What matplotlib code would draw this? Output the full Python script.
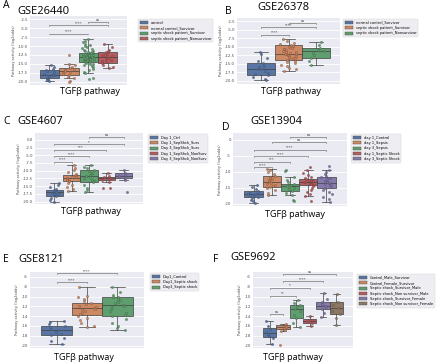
import numpy as np
import matplotlib
matplotlib.use("Agg")
import matplotlib.pyplot as plt
from matplotlib.patches import Patch

# seaborn "deep" palette (box faces slightly desaturated, points full colour)
box_colors = ["#5975a4", "#cc8963", "#5f9e6e", "#b55d60", "#857aab", "#8d7866"]
pt_colors = ["#4c72b0", "#dd8452", "#55a868", "#c44e52", "#8172b3", "#937860"]

# ---- GSE26440 ----
a_groups = ["control", "normal control_Survivor", "septic shock patient_Survivor",
            "septic shock patient_Nonsurvivor"]
# (whislo, q1, med, q3, whishi)
a_boxes = [(-19.7, -19.0, -18.0, -16.65, -15.4), (-19.0, -18.1, -17.0, -16.1, -14.9),
           (-17.6, -14.45, -13.1, -11.9, -8.0), (-16.2, -14.7, -13.0, -11.8, -9.4)]
a_points = [
    [-15.4, -15.9, -16.3, -16.6, -17.0, -17.3, -17.7, -18.0, -18.2, -18.6, -18.9, -19.1, -19.4, -19.7],
    [-12.4, -14.9, -15.4, -15.9, -16.2, -16.5, -16.8, -17.0, -17.3, -17.6, -17.9, -18.2, -18.6, -19.0, -19.8, -20.2],
    [-8.0, -8.5, -9.0, -9.4, -9.8, -10.1, -10.4, -10.6, -10.9, -11.1, -11.3, -11.5, -11.7, -11.8, -11.9,
     -12.0, -12.1, -12.2, -12.3, -12.4, -12.5, -12.6, -12.7, -12.8, -12.9, -13.0, -13.1, -13.2, -13.3,
     -13.4, -13.5, -13.6, -13.7, -13.8, -13.9, -14.0, -14.1, -14.2, -14.3, -14.4, -14.5, -14.7, -14.9,
     -15.1, -15.4, -15.7, -16.0, -16.4, -16.8, -17.2, -17.6, -19.0, -19.2],
    [-9.4, -10.2, -11.0, -11.5, -11.8, -12.1, -12.4, -12.6, -12.9, -13.1, -13.3, -13.6, -13.9, -14.2,
     -14.5, -14.8, -15.3, -15.8, -16.2],
]
a_brackets = [(0, 2, -6.5, "****"), (0, 3, -4.2, "****"), (2, 3, -3.2, "ns")]
a_yticks = [-2.5, -5.0, -7.5, -10.0, -12.5, -15.0, -17.5, -20.0]

# ---- GSE26378 ----
b_groups = ["normal control_Survivor", "septic shock patient_Survivor",
            "septic shock patient_Nonsurvivor"]
b_boxes = [(-19.8, -18.3, -16.6, -14.9, -11.6), (-17.1, -13.75, -12.1, -9.4, -7.8),
           (-15.2, -13.3, -11.35, -10.4, -8.65)]
b_points = [
    [-11.6, -12.0, -13.3, -14.2, -14.9, -15.5, -16.0, -16.6, -17.1, -17.6, -18.0, -18.3, -18.9, -19.4, -19.8],
    [-7.8, -8.3, -8.9, -9.2, -9.4, -9.7, -10.0, -10.3, -10.6, -10.8, -11.0, -11.2, -11.4, -11.6, -11.8,
     -12.0, -12.1, -12.2, -12.4, -12.6, -12.8, -13.0, -13.2, -13.4, -13.6, -13.8, -14.1, -14.4, -14.8,
     -15.2, -15.7, -16.2, -16.6, -17.1],
    [-8.65, -9.4, -10.4, -10.9, -11.3, -11.8, -12.4, -13.3, -14.2, -15.2],
]
b_brackets = [(0, 1, -6.5, "****"), (0, 2, -4.3, "****"), (1, 2, -3.0, "ns")]

# ---- GSE4607 ----
c_groups = ["Day 1_Ctrl", "Day 1_SepShck_Surv", "Day 3_SepShck_Surv",
            "Day 1_SepShck_NonSurv", "Day 3_SepShck_NonSurv"]
c_boxes = [(-20.0, -18.1, -17.0, -16.2, -14.0), (-16.5, -13.5, -12.4, -11.4, -8.2),
           (-17.0, -13.8, -11.6, -9.7, -8.1), (-13.8, -13.0, -12.4, -11.9, -10.9),
           (-13.0, -12.5, -11.6, -10.9, -9.8)]
c_points = [
    [-14.0, -14.6, -15.3, -15.9, -16.3, -16.6, -16.9, -17.1, -17.4, -17.7, -18.0, -18.3, -18.8, -19.4, -20.0],
    [-8.2, -9.0, -9.8, -10.5, -11.0, -11.4, -11.7, -12.0, -12.2, -12.4, -12.6, -12.9, -13.2, -13.5,
     -13.9, -14.5, -15.2, -15.9, -16.5],
    [-8.1, -8.7, -9.2, -9.7, -10.1, -10.6, -11.0, -11.4, -11.7, -12.0, -12.4, -12.9, -13.4, -13.8,
     -14.5, -15.5, -16.3, -17.0],
    [-10.9, -11.7, -12.1, -12.4, -12.7, -13.1, -13.8, -15.5, -15.7],
    [-9.8, -10.9, -11.4, -11.8, -12.5, -13.0, -16.8],
]
c_brackets = [(0, 1, -7.1, "****"), (0, 2, -5.4, "****"), (0, 3, -3.3, "***"),
              (0, 4, -1.4, "*"), (2, 4, 0.75, "ns")]
c_yticks = [0.0, -2.5, -5.0, -7.5, -10.0, -12.5, -15.0, -17.5, -20.0]

# ---- GSE13904 ----
d_groups = ["day 1_Control", "day 1_Sepsis", "day 3_Sepsis", "day 1_Septic Shock", "day 3_Septic Shock"]
d_boxes = [(-19.7, -17.8, -16.9, -16.1, -14.0), (-17.4, -14.7, -13.2, -11.4, -9.1),
           (-17.4, -15.9, -14.3, -13.8, -11.7), (-17.6, -14.2, -13.3, -12.2, -9.6),
           (-19.4, -15.0, -13.5, -11.6, -9.5)]
d_points = [
    [-14.0, -14.8, -15.5, -16.0, -16.3, -16.6, -16.8, -17.0, -17.2, -17.5, -17.8, -18.2, -18.7, -19.2, -19.7],
    [-9.1, -9.6, -10.2, -10.8, -11.2, -11.5, -11.9, -12.3, -12.7, -13.0, -13.2, -13.5, -13.8, -14.1,
     -14.4, -14.7, -15.2, -15.8, -16.5, -17.4],
    [-9.3, -9.8, -11.7, -12.5, -13.3, -13.8, -14.0, -14.3, -14.6, -15.0, -15.5, -15.9, -16.5, -17.4,
     -18.7, -19.0],
    [-8.6, -9.6, -10.3, -11.0, -11.6, -12.0, -12.2, -12.5, -12.7, -12.9, -13.1, -13.3, -13.5, -13.7,
     -13.9, -14.2, -14.6, -15.1, -15.7, -16.4, -17.0, -17.6, -19.0],
    [-8.3, -9.5, -10.1, -10.7, -11.2, -11.6, -12.0, -12.4, -12.8, -13.2, -13.5, -13.8, -14.1, -14.5,
     -15.0, -15.6, -16.2, -17.0, -17.8, -18.6, -19.4],
]
d_brackets = [(0, 1, -8.6, "****"), (0, 2, -6.9, "***"), (0, 3, -5.2, "****"),
              (0, 4, -3.1, "****"), (1, 4, -0.7, "ns"), (2, 4, 0.8, "ns")]
d_yticks = [0, -5, -10, -15, -20]

# ---- GSE8121 ----
e_groups = ["Day1_Control", "Day1_Septic shock", "Day3_Septic shock"]
e_boxes = [(-19.65, -17.9, -16.9, -16.0, -14.9), (-16.3, -13.7, -12.3, -11.4, -8.1),
           (-16.9, -13.9, -11.8, -10.2, -8.1)]
e_points = [
    [-14.9, -15.2, -15.7, -16.0, -16.3, -16.6, -16.9, -17.2, -17.6, -17.9, -18.4, -19.0, -19.65],
    [-8.1, -9.8, -10.2, -10.6, -11.0, -11.3, -11.6, -11.9, -12.1, -12.3, -12.5, -12.7, -13.0, -13.3,
     -13.6, -13.9, -14.3, -14.8, -15.4, -16.0, -16.3],
    [-8.1, -9.0, -9.6, -10.0, -10.2, -10.5, -10.8, -11.1, -11.4, -11.7, -11.9, -12.2, -12.5, -12.9,
     -13.3, -13.7, -14.0, -14.6, -15.3, -16.0, -16.5, -16.9],
]
e_brackets = [(0, 1, -7.1, "****"), (0, 2, -5.3, "****")]
ef_yticks = [-6, -8, -10, -12, -14, -16, -18, -20]

# ---- GSE9692 ----
f_groups = ["Control_Male_Survivor", "Control_Female_Survivor", "Septic shock_Survivor_Male",
            "Septic shock_Non survivor_Male", "Septic shock_Survivor_Female",
            "Septic shock_Non survivor_Female"]
f_boxes = [(-19.65, -18.25, -17.5, -16.5, -15.05), (-17.0, -16.7, -16.3, -15.8, -15.6),
           (-16.2, -14.4, -12.5, -11.8, -10.7), (-16.0, -15.3, -14.9, -14.6, -13.9),
           (-14.2, -12.5, -12.0, -11.1, -9.2), (-15.8, -13.5, -12.3, -11.1, -9.5)]
f_points = [
    [-15.05, -16.0, -16.6, -17.2, -17.6, -18.0, -18.4, -19.65],
    [-15.6, -15.9, -16.1, -16.3, -16.5, -16.8, -17.0, -19.8],
    [-10.7, -11.3, -11.8, -12.2, -12.5, -13.0, -13.8, -14.4, -15.5, -16.2],
    [-13.9, -14.7, -15.0, -15.3, -16.0],
    [-9.2, -10.5, -11.1, -11.5, -11.9, -12.2, -12.6, -13.4, -14.2],
    [-9.5, -11.1, -11.8, -12.3, -12.9, -13.5, -14.3, -15.8],
]
f_brackets = [(0, 1, -13.5, "ns"), (0, 2, -9.9, "**"), (0, 3, -8.2, "*"),
              (1, 4, -6.9, "****"), (1, 5, -5.5, "ns")]

W, H = 440, 362
rng = np.random.default_rng(7)


def px_rect(x0, y0, x1, y1):
    return [x0 / W, 1 - y1 / H, (x1 - x0) / W, (y1 - y0) / H]


def draw_panel(fig, rect, groups, boxes, points, brackets, yticks, ylim, fmt, leg_xy):
    ax = fig.add_axes(px_rect(*rect))
    ax.set_facecolor("#eaeaf2")
    for s in ax.spines.values():
        s.set_visible(False)
    ax.set_axisbelow(True)
    ax.grid(axis="y", color="white", lw=0.6)

    n = len(groups)
    w = 0.8 / n
    pos = [-0.4 + w * (i + 0.5) for i in range(n)]
    stats = [dict(whislo=b[0], q1=b[1], med=b[2], q3=b[3], whishi=b[4], fliers=[]) for b in boxes]
    bp = ax.bxp(stats, positions=pos, widths=w, capwidths=w * 0.5, patch_artist=True,
                showfliers=False,
                boxprops=dict(edgecolor="0.25", lw=0.5),
                medianprops=dict(color="0.25", lw=0.5),
                whiskerprops=dict(color="0.25", lw=0.5),
                capprops=dict(color="0.25", lw=0.5))
    for patch, c in zip(bp["boxes"], box_colors):
        patch.set_facecolor(c)

    # strip of individual samples over the boxes
    for i, vals in enumerate(points):
        xs = pos[i] + rng.uniform(-w * 0.3, w * 0.3, len(vals))
        ax.scatter(xs, vals, s=2.8, color=pt_colors[i], edgecolors="0.25",
                   linewidths=0.2, zorder=4)

    yr = ylim[1] - ylim[0]
    for i, j, y, txt in brackets:
        h = yr * 0.012
        ax.plot([pos[i], pos[i], pos[j], pos[j]], [y - h, y, y, y - h], color="0.35", lw=0.4)
        ax.text((pos[i] + pos[j]) / 2, y + yr * 0.002, txt, ha="center", va="bottom",
                fontsize=2.6, color="0.2")

    ax.set_xlim(-0.5, 0.5)
    ax.set_ylim(*ylim)
    ax.set_xticks([])
    ax.set_yticks(yticks)
    ax.set_yticklabels([fmt.format(t) for t in yticks])
    ax.tick_params(axis="y", length=0, pad=1.5, labelsize=2.8, labelcolor="0.3")
    ax.set_ylabel("Pathway activity (log2odds)", fontsize=2.6, labelpad=1.5, color="0.3")

    handles = [Patch(facecolor=box_colors[i], edgecolor="0.3", lw=0.3) for i in range(n)]
    ax.legend(handles, groups, loc="upper left",
              bbox_to_anchor=(leg_xy[0] / W, 1 - leg_xy[1] / H),
              bbox_transform=fig.transFigure, fontsize=2.6, frameon=True,
              facecolor="#eeeef2", edgecolor="#d0d0d8", framealpha=1,
              handlelength=2.2, handleheight=0.9, borderpad=0.5, labelspacing=0.35,
              handletextpad=0.8, borderaxespad=0).get_frame().set_linewidth(0.3)
    return ax


fig = plt.figure(figsize=(4.4, 3.62), dpi=100)

draw_panel(fig, (30, 16, 127, 85), a_groups, a_boxes, a_points, a_brackets,
           a_yticks, (-20.9, -1.6), "{:.1f}", (138, 19))
draw_panel(fig, (237, 18, 340, 84), b_groups, b_boxes, b_points, b_brackets,
           a_yticks, (-20.9, -1.6), "{:.1f}", (343, 19))
draw_panel(fig, (35, 133, 143, 204), c_groups, c_boxes, c_points, c_brackets,
           c_yticks, (-20.8, 2.2), "{:.1f}", (148, 134))
draw_panel(fig, (233, 133, 347, 206), d_groups, d_boxes, d_points, d_brackets,
           d_yticks, (-20.7, 2.1), "{:.0f}", (351, 134))
draw_panel(fig, (30, 272, 144, 348), e_groups, e_boxes, e_points, e_brackets,
           ef_yticks, (-20.5, -5.0), "{:.0f}", (150, 273))
draw_panel(fig, (253, 272, 353, 348), f_groups, f_boxes, f_points, f_brackets,
           ef_yticks, (-20.5, -5.0), "{:.0f}", (357, 274))

big = ["Open Sans", "DejaVu Sans"]
letters = [("A", 3, 5), ("B", 225, 11), ("C", 3, 121), ("D", 222, 128), ("E", 3, 259), ("F", 213, 259)]
for txt, x, y in letters:
    fig.text(x / W, 1 - y / H, txt, fontsize=7.5, family=big, va="center", ha="left")
titles = [("GSE26440", 17, 11), ("GSE26378", 257, 7), ("GSE4607", 17, 121),
          ("GSE13904", 250, 121), ("GSE8121", 18, 259), ("GSE9692", 230, 257)]
for txt, x, y in titles:
    fig.text(x / W, 1 - y / H, txt, fontsize=8, family=big, va="center", ha="left")
xlabels = [(90, 91), (291, 92), (91, 212), (295, 214), (84, 357), (293, 357)]
for x, y in xlabels:
    fig.text(x / W, 1 - y / H, "TGFβ pathway", fontsize=6.5, family=big, va="center", ha="center")

fig.savefig("out.png", dpi=100)
